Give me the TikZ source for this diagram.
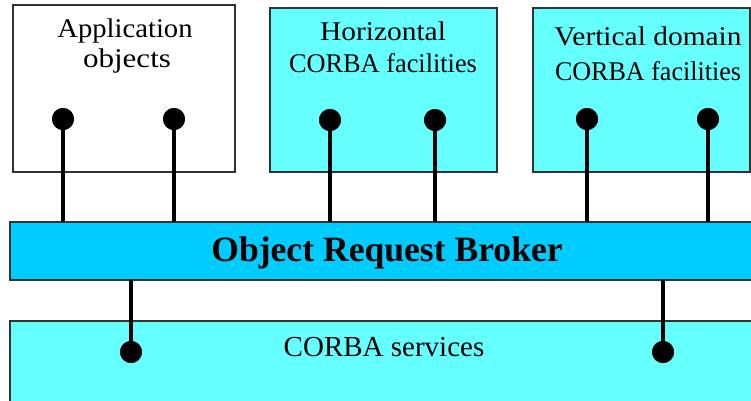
\documentclass[tikz,border=0pt]{standalone}
\usepackage{fontspec}
\setmainfont{Liberation Serif}
\definecolor{boxcyan}{HTML}{66FFFF}
\definecolor{orbblue}{HTML}{00CCFF}
\definecolor{edge}{HTML}{333333}
\begin{document}
\begin{tikzpicture}[x=1bp,y=-1bp,
  box/.style={draw=edge,line width=1.2bp,inner sep=0,outer sep=0,anchor=north west},
  lbl/.style={anchor=base,inner sep=0,font=\fontsize{27bp}{32bp}\selectfont},
  dot/.style={circle,fill=black,inner sep=0,minimum size=22bp},
  conn/.style={line width=4bp,black}]
\useasboundingbox (0,0) rectangle (751,400);
% boxes
\node[box,fill=white,minimum width=222bp,minimum height=167bp] (app) at (13,5) {};
\node[box,fill=boxcyan,minimum width=227bp,minimum height=164bp] (hor) at (270,8) {};
\node[box,fill=boxcyan,minimum width=217bp,minimum height=164bp] (ver) at (533,8) {};
\node[box,fill=orbblue,minimum width=760bp,minimum height=58bp] (orb) at (10,222) {};
\node[box,fill=boxcyan,minimum width=760bp,minimum height=100bp] (svc) at (10,321) {};
% labels
\node[lbl,xscale=1.06] (app1) at (125,37) {Application};
\node[lbl,xscale=1.15] (app2) at (127,67) {objects};
\node[lbl,xscale=1.09] (hor1) at (383,40) {Horizontal};
\node[lbl,xscale=0.975] (hor2) at (383,72) {CORBA facilities};
\node[lbl,xscale=1.09] (ver1) at (648,45) {Vertical domain};
\node[lbl,xscale=0.965] (ver2) at (648,80) {CORBA facilities};
\node[lbl,font=\fontsize{35.6bp}{40bp}\selectfont\bfseries] (orbl) at (387,261) {Object Request Broker};
\node[lbl,font=\fontsize{29bp}{33bp}\selectfont] (svcl) at (384,356) {CORBA services};
% dots
\node[dot] (a1) at (63,119) {};
\node[dot] (a2) at (174,119) {};
\node[dot] (h1) at (330,120) {};
\node[dot] (h2) at (435,120) {};
\node[dot] (v1) at (587,119) {};
\node[dot] (v2) at (708,119) {};
\node[dot] (s1) at (131,352) {};
\node[dot] (s2) at (663,352) {};
% connectors
\foreach \d in {a1,a2,h1,h2,v1,v2}
  \draw[conn] (\d.center) -- (\d.center |- orb.north);
\foreach \d in {s1,s2}
  \draw[conn] (\d.center) -- (\d.center |- orb.south);
\foreach \d in {a1,a2,h1,h2,v1,v2,s1,s2}
  \fill (\d) circle (11bp);
\end{tikzpicture}
\end{document}
